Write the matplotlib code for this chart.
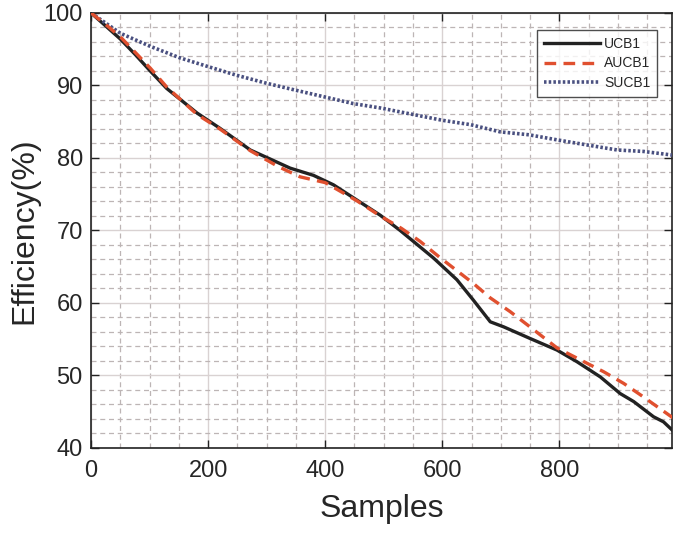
import numpy as np
import matplotlib.pyplot as plt
from matplotlib.ticker import MultipleLocator

# values
ucb1_x = [0, 25, 50, 75, 101, 129, 181, 220, 272, 340, 380, 414, 454, 494, 528,
          585, 625, 653, 682, 705, 750, 796, 830, 870, 904, 927, 961, 978, 995]
ucb1_y = [100, 98.2, 96.4, 94.3, 92.0, 89.6, 86.2, 84.1, 81.1, 78.6, 77.6, 76.3,
          74.2, 72.1, 70.0, 66.2, 63.2, 60.4, 57.4, 56.7, 55.1, 53.5, 51.9, 49.8,
          47.5, 46.4, 44.3, 43.6, 42.3]

aucb1_x = [0, 25, 50, 75, 101, 129, 181, 220, 272, 320, 357, 400, 454, 494, 530,
           562, 597, 653, 682, 716, 745, 796, 842, 876, 910, 939, 967, 995]
aucb1_y = [100, 98.4, 96.7, 94.6, 92.4, 89.8, 86.0, 84.0, 81.0, 78.8, 77.4, 76.6,
           74.1, 72.0, 70.3, 68.5, 66.2, 62.7, 60.7, 58.8, 57.0, 53.8, 51.9, 50.5,
           48.9, 47.3, 45.7, 44.1]

sucb1_x = [0, 50, 101, 152, 200, 249, 300, 352, 400, 448, 494, 600, 648, 699, 748,
           796, 847, 899, 944, 993]
sucb1_y = [100, 97.2, 95.4, 93.8, 92.6, 91.4, 90.3, 89.3, 88.4, 87.5, 86.9, 85.2,
           84.6, 83.6, 83.2, 82.5, 81.8, 81.1, 80.9, 80.4]

x_ticks = [0, 200, 400, 600, 800]
y_ticks = [40, 50, 60, 70, 80, 90, 100]


def plot_efficiency():
    plt.rcParams['font.family'] = ['Liberation Sans', 'DejaVu Sans']
    text_col = '#262626'

    fig = plt.figure(figsize=(6.75, 5.41), dpi=100)
    ax = fig.add_axes([0.135, 0.172, 0.861, 0.804])

    ax.plot(ucb1_x, ucb1_y, color='#222222', lw=2.4, label='UCB1', zorder=3)
    ax.plot(aucb1_x, aucb1_y, color='#E0502F', lw=2.4, ls=(0, (3.5, 2.2)),
            label='AUCB1', zorder=4)
    ax.plot(sucb1_x, sucb1_y, color='#4A5080', lw=2.6, ls=(0, (0.7, 0.6)),
            label='SUCB1', zorder=3)

    ax.set_xlim(0, 993)
    ax.set_ylim(40, 100)
    ax.set_xticks(x_ticks)
    ax.set_yticks(y_ticks)
    ax.xaxis.set_minor_locator(MultipleLocator(50))
    ax.yaxis.set_minor_locator(MultipleLocator(2))

    ax.grid(True, which='major', color='#d9d2d2', lw=1.0, ls='-')
    ax.grid(True, which='minor', color='#bdb5b5', lw=0.9, ls=(0, (4, 3)))
    ax.set_axisbelow(True)

    ax.tick_params(which='both', direction='in', top=True, right=True,
                   labelsize=17, color='#222222', labelcolor=text_col)
    ax.tick_params(which='major', length=6, width=1.0)
    ax.tick_params(axis='x', which='major', pad=9)
    ax.tick_params(axis='y', which='major', pad=6)
    ax.tick_params(which='minor', length=0)
    for s in ax.spines.values():
        s.set_color('#222222')
        s.set_linewidth(1.2)

    ax.set_xlabel('Samples', fontsize=23, labelpad=8, color=text_col)
    ax.set_ylabel('Efficiency(%)', fontsize=23, labelpad=3, color=text_col)

    leg = ax.legend(loc='upper right', bbox_to_anchor=(0.974, 0.961), fontsize=10,
                    frameon=True, fancybox=False, handlelength=4.0,
                    borderpad=0.5, labelspacing=0.4, handletextpad=0.3,
                    borderaxespad=0)
    leg.get_frame().set_edgecolor('#222222')
    leg.get_frame().set_linewidth(1.0)
    for t in leg.get_texts():
        t.set_color(text_col)

    fig.savefig('out.png', dpi=100)


def main():
    plot_efficiency()


if __name__ == "__main__":
    main()
